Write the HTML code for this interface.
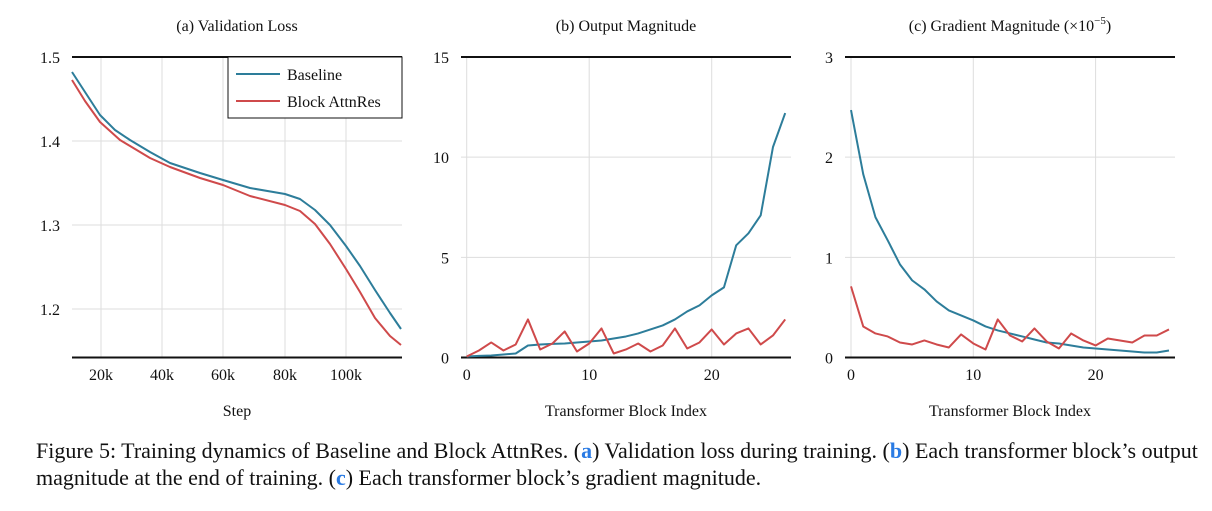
<!DOCTYPE html>
<html><head><meta charset="utf-8"><style>
body{margin:0;background:#fff;width:1212px;height:511px;overflow:hidden;font-family:"Liberation Serif",serif}
.cap{position:absolute;left:36px;top:437px;font-size:22px;line-height:27px;color:#111;width:1172px}
.cap b{color:#2a7be4}
</style></head><body>
<svg id="s" width="1212" height="430" style="position:absolute;left:0;top:0" font-family="Liberation Serif, serif"></svg>
<div class="cap">Figure 5: Training dynamics of Baseline and Block AttnRes. (<b>a</b>) Validation loss during training. (<b>b</b>) Each transformer block’s output magnitude at the end of training. (<b>c</b>) Each transformer block’s gradient magnitude.</div>
<script>
(function(){
const B="#2d7d9a",R="#cf4a4b";let h='';
function L(x1,y1,x2,y2,c,w){h+=`<line x1="${x1}" y1="${y1}" x2="${x2}" y2="${y2}" stroke="${c}" stroke-width="${w}"/>`}
function T(x,y,t,a,s){h+=`<text x="${x}" y="${y}" font-size="${s||16}" text-anchor="${a||'middle'}" fill="#111">${t}</text>`}
function P(pts,c){h+=`<polyline fill="none" stroke="${c}" stroke-width="2" stroke-linejoin="round" points="${pts.map(p=>p.join(',')).join(' ')}"/>`}
const yTop=57,bot=357.5;
[101,162,223,285,346].forEach(x=>L(x,yTop,x,bot,"#ddd",1));
[141,225,309].forEach(y=>L(72,y,402,y,"#ddd",1));
L(72,yTop,402,yTop,"#111",2);L(72,bot,402,bot,"#111",2);
[[57,"1.5"],[141,"1.4"],[225,"1.3"],[309,"1.2"]].forEach(([y,t])=>T(60,y+6,t,'end'));
["20k","40k","60k","80k","100k"].forEach((t,i)=>T([101,162,223,285,346][i],380,t));
T(237,416,"Step");T(237,31,"(a) Validation Loss");
P([[72,72],[85,92],[100,115],[115,130],[130,140],[150,152],[170,163],[200,173],[223,180],[250,188],[285,194],[300,199],[315,210],[330,225],[346,246],[360,266],[375,290],[390,313],[401,329]],B);
P([[72,80],[85,101],[100,122],[120,140],[150,158],[170,167],[200,178],[223,185],[250,196],[285,205],[300,211],[315,224],[330,244],[346,269],[360,292],[375,318],[390,336],[401,345]],R);
h+=`<rect x="228" y="57" width="174" height="61" fill="#fff" stroke="#111" stroke-width="1"/>`;
L(236,74,280,74,B,2);T(287,80,"Baseline",'start');L(236,101,280,101,R,2);T(287,107,"Block AttnRes",'start');
function panel(x0,ax1,ax2,sx,ymax,ticks,title,bd,rd){
 [0,10,20].forEach(i=>L(x0+i*sx,yTop,x0+i*sx,bot,"#ddd",1));
 ticks.slice(1,-1).forEach(v=>{const y=bot-(v/ymax)*300.5;L(ax1,y,ax2,y,"#ddd",1)});
 L(ax1,yTop,ax2,yTop,"#111",2);L(ax1,bot,ax2,bot,"#111",2);
 ticks.forEach(v=>T(ax1-12,bot-(v/ymax)*300.5+6,v,'end'));
 [0,10,20].forEach(i=>T(x0+i*sx,380,i));
 T((ax1+ax2)/2,416,"Transformer Block Index");T((ax1+ax2)/2,31,title);
 P(bd.map((v,i)=>[x0+i*sx,bot-(v/ymax)*300.5]),B);
 P(rd.map((v,i)=>[x0+i*sx,bot-(v/ymax)*300.5]),R);
}
panel(466.7,461,791,12.25,15,[0,5,10,15],"(b) Output Magnitude",
[0.05,0.08,0.1,0.15,0.2,0.6,0.65,0.68,0.7,0.75,0.8,0.85,0.95,1.05,1.2,1.4,1.6,1.9,2.3,2.6,3.1,3.5,5.6,6.2,7.1,10.5,12.2],
[0.05,0.35,0.75,0.35,0.65,1.9,0.4,0.7,1.3,0.3,0.7,1.45,0.2,0.4,0.7,0.3,0.6,1.45,0.45,0.75,1.4,0.65,1.2,1.45,0.65,1.1,1.9]);
panel(851,845,1175,12.23,3,[0,1,2,3],"(c) Gradient Magnitude (×10<tspan dy='-7' font-size='11'>−5</tspan><tspan dy='7'>)</tspan>",
[2.47,1.83,1.4,1.17,0.93,0.77,0.68,0.56,0.47,0.42,0.37,0.31,0.27,0.24,0.21,0.18,0.15,0.14,0.12,0.1,0.09,0.08,0.07,0.06,0.05,0.05,0.07],
[0.71,0.31,0.24,0.21,0.15,0.13,0.17,0.13,0.1,0.23,0.14,0.08,0.38,0.22,0.16,0.29,0.16,0.09,0.24,0.17,0.12,0.19,0.17,0.15,0.22,0.22,0.28]);
document.getElementById('s').innerHTML=h;
})();
</script>
</body></html>
